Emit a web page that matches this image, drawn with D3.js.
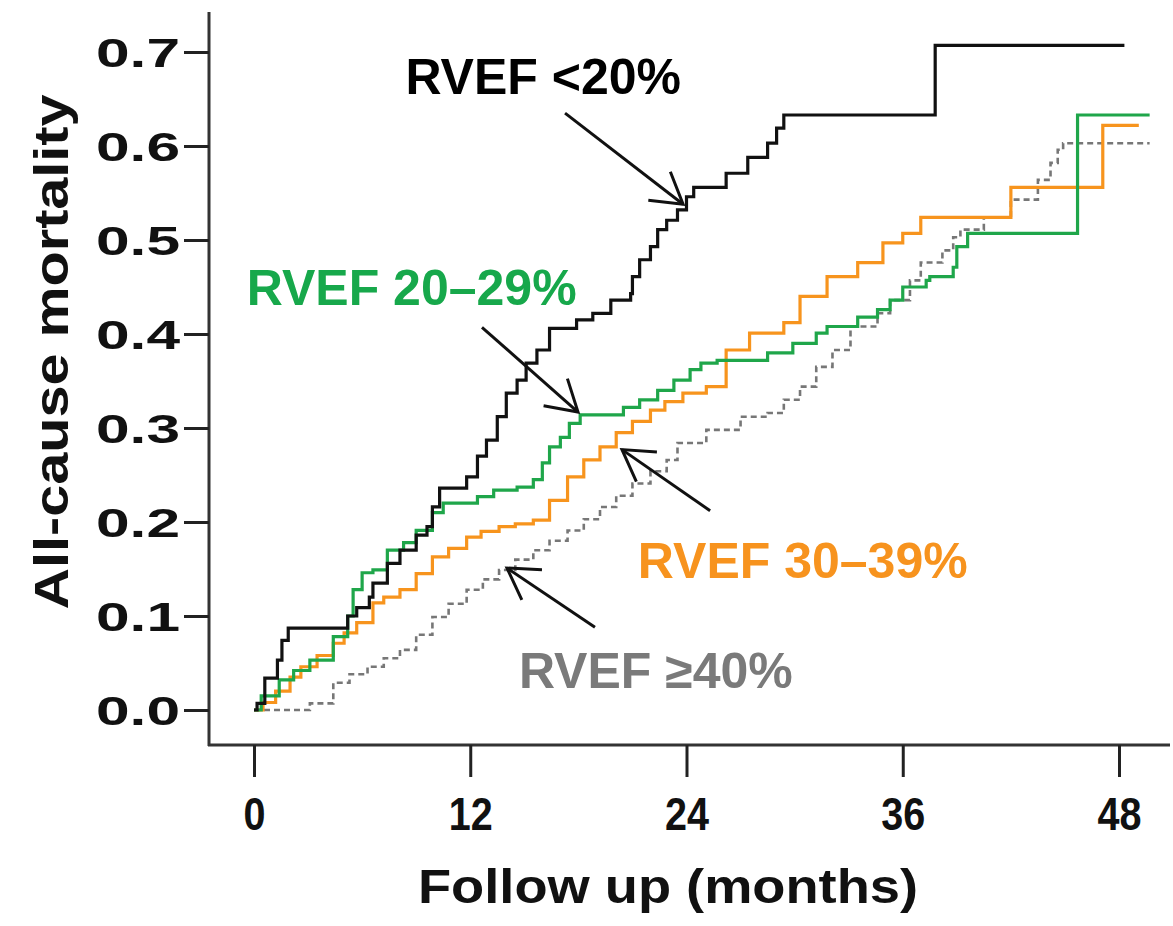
<!DOCTYPE html>
<html>
<head>
<meta charset="utf-8">
<script src="https://cdn.jsdelivr.net/npm/d3@7"></script>
<style>
  html, body { margin: 0; padding: 0; background: #fff; }
  svg { display: block; }
</style>
</head>
<body>
<svg id="chart" width="1173" height="926"></svg>
<script>
// ---------------- DATA ----------------
const xTicks = [0, 12, 24, 36, 48];
const yTicks = [0.0, 0.1, 0.2, 0.3, 0.4, 0.5, 0.6, 0.7];
const xTitle = "Follow up (months)";
const yTitle = "All-cause mortality";

const seriesNames = ["RVEF <20%", "RVEF 20–29%", "RVEF 30–39%", "RVEF ≥40%"];

const monthsLt20 = [0,0.17,0.6,1.3,1.55,1.9,5.2,5.7,6.4,6.6,7.4,8.1,9.0,9.6,9.9,10.3,11.8,12.4,12.9,13.5,14.0,14.6,15.1,15.7,16.4,17.9,18.8,19.8,20.9,21.0,21.4,22.0,22.4,22.9,23.5,24.0,24.4,26.2,27.4,28.5,29.0,29.4,37.8,48.3];
const mortLt20   = [0,0.007,0.034,0.053,0.074,0.087,0.100,0.109,0.120,0.135,0.156,0.170,0.186,0.195,0.216,0.236,0.248,0.270,0.287,0.312,0.337,0.351,0.369,0.383,0.406,0.415,0.422,0.436,0.443,0.461,0.479,0.493,0.511,0.521,0.532,0.546,0.556,0.571,0.588,0.603,0.619,0.633,0.707,0.707];

const months20to29 = [0,0.4,1.4,2.2,3.1,4.4,5.2,5.5,6.0,6.6,7.4,8.3,9.0,9.9,10.5,12.4,13.3,14.6,15.5,16.0,16.4,17.0,17.5,18.1,20.5,21.4,22.4,23.3,24.2,24.8,25.7,28.5,29.9,31.2,31.8,33.5,34.6,35.3,36.0,37.3,37.5,38.8,39.0,39.6,45.7,49.7];
const mort20to29   = [0,0.015,0.032,0.042,0.053,0.078,0.100,0.128,0.146,0.149,0.170,0.178,0.191,0.210,0.220,0.227,0.234,0.237,0.245,0.263,0.280,0.290,0.305,0.314,0.322,0.330,0.340,0.351,0.362,0.369,0.372,0.380,0.390,0.401,0.408,0.418,0.426,0.436,0.450,0.457,0.461,0.471,0.493,0.507,0.633,0.633];

const months30to39 = [0,0.5,1.2,2.0,2.6,3.5,4.4,5.0,5.7,6.6,7.2,8.1,9.0,9.9,10.8,11.8,12.6,13.6,14.5,15.5,16.4,17.4,18.3,19.2,20.1,21.0,22.0,22.8,23.8,25.1,26.2,27.5,29.4,30.3,31.8,33.5,34.9,36.0,37.0,42.0,47.1,49.1];
const mort30to39   = [0,0.008,0.02,0.035,0.046,0.058,0.071,0.082,0.093,0.114,0.12,0.128,0.145,0.163,0.172,0.184,0.19,0.195,0.198,0.202,0.223,0.248,0.266,0.280,0.295,0.307,0.319,0.328,0.337,0.344,0.383,0.401,0.412,0.440,0.461,0.476,0.497,0.507,0.524,0.556,0.622,0.622];

const monthsGe40 = [0,3.1,4.4,5.3,6.3,7.2,8.1,9.0,9.9,10.8,11.8,12.7,13.6,14.5,15.5,16.4,17.4,18.3,19.2,20.1,21.0,22.0,22.9,23.5,25.1,27.0,28.5,29.4,30.3,31.2,32.1,33.1,34.6,35.3,36.4,37.0,38.2,38.8,39.2,40.5,42.0,43.5,44.2,44.6,44.9,49.7];
const mortGe40   = [0,0.007,0.029,0.038,0.046,0.055,0.064,0.08,0.099,0.113,0.128,0.139,0.149,0.16,0.170,0.18,0.191,0.203,0.216,0.228,0.241,0.254,0.266,0.284,0.298,0.312,0.316,0.33,0.344,0.365,0.383,0.408,0.422,0.436,0.457,0.476,0.489,0.503,0.511,0.524,0.543,0.564,0.582,0.596,0.603,0.603];

// label anchors (months, mortality) and arrows [tail, tip] in data units
const labelMonths = [8.4, -0.4, 21.3, 14.7];
const labelMort   = [0.655, 0.431, 0.140, 0.023];
const arrowTailM = [17.26, 12.65, 25.31, 18.92];
const arrowTailV = [0.635, 0.407, 0.212, 0.088];
const arrowTipM  = [23.81, 17.98, 20.42, 14.04];
const arrowTipV  = [0.538, 0.317, 0.277, 0.151];

// ---------------- STYLE ----------------
const colors = ["#111111", "#1fa64a", "#f7941d", "#777777"];
const textColors = ["#000000", "#17a84b", "#f7931e", "#7a7a7a"];
const dashes = [null, null, null, "6,4"];

const svg = d3.select("#chart");
const x = d3.scaleLinear().domain([0, 48]).range([254, 1119]);
const y = d3.scaleLinear().domain([0, 0.7]).range([710, 52]);

const axisX0 = 209, axisY0 = 745;

// Axis lines
svg.append("line").attr("x1", axisX0).attr("x2", axisX0).attr("y1", 12).attr("y2", axisY0 + 1)
  .attr("stroke", "#333").attr("stroke-width", 3);
svg.append("line").attr("x1", axisX0 - 1).attr("x2", 1170).attr("y1", axisY0).attr("y2", axisY0)
  .attr("stroke", "#333").attr("stroke-width", 3);

// Y axis
const gy = svg.append("g").attr("transform", `translate(${axisX0},0)`)
  .call(d3.axisLeft(y).tickValues(yTicks).tickFormat(d3.format(".1f")).tickSize(25).tickPadding(4));
gy.select(".domain").remove();
gy.selectAll(".tick line").attr("stroke", "#222").attr("stroke-width", 3);
gy.selectAll(".tick text")
  .attr("font-family", "Liberation Sans, Arial, sans-serif")
  .attr("font-weight", "bold").attr("font-size", 40).attr("fill", "#111")
  .attr("textLength", 84).attr("lengthAdjust", "spacingAndGlyphs")
  .attr("x", -29).attr("dy", "0.36em");

// X axis
const gx = svg.append("g").attr("transform", `translate(0,${axisY0})`)
  .call(d3.axisBottom(x).tickValues(xTicks).tickFormat(d3.format("d")).tickSize(32).tickPadding(6));
gx.select(".domain").remove();
gx.selectAll(".tick line").attr("stroke", "#222").attr("stroke-width", 3);
gx.selectAll(".tick text")
  .attr("font-family", "Liberation Sans, Arial, sans-serif")
  .attr("font-weight", "bold").attr("font-size", 46).attr("fill", "#111")
  .attr("textLength", d => String(d).length * 22).attr("lengthAdjust", "spacingAndGlyphs")
  .attr("dy", 0).attr("y", 85);

// Axis titles
svg.append("text").attr("transform", "translate(68,352) rotate(-90)")
  .attr("text-anchor", "middle")
  .attr("font-family", "Liberation Sans, Arial, sans-serif").attr("font-weight", "bold")
  .attr("font-size", 48).attr("fill", "#111")
  .attr("textLength", 515).attr("lengthAdjust", "spacingAndGlyphs")
  .text(yTitle);
svg.append("text").attr("x", 668).attr("y", 903)
  .attr("text-anchor", "middle")
  .attr("font-family", "Liberation Sans, Arial, sans-serif").attr("font-weight", "bold")
  .attr("font-size", 48).attr("fill", "#111")
  .attr("textLength", 500).attr("lengthAdjust", "spacingAndGlyphs")
  .text(xTitle);

// Curves
const seriesMonths = [monthsLt20, months20to29, months30to39, monthsGe40];
const seriesMort = [mortLt20, mort20to29, mort30to39, mortGe40];
const line = d3.line().x(d => x(d[0])).y(d => y(d[1])).curve(d3.curveStepAfter);
const drawOrder = [3, 2, 1, 0];
drawOrder.forEach(i => {
  const pts = seriesMonths[i].map((m, k) => [m, seriesMort[i][k]]);
  svg.append("path").datum(pts)
    .attr("d", line)
    .attr("fill", "none")
    .attr("stroke", colors[i])
    .attr("stroke-width", i === 3 ? 2.6 : 3.2)
    .attr("stroke-dasharray", dashes[i])
    .attr("stroke-linejoin", "miter");
});

// Labels
seriesNames.forEach((name, i) => {
  svg.append("text").attr("x", x(labelMonths[i])).attr("y", y(labelMort[i]))
    .attr("font-family", "Liberation Sans, Arial, sans-serif").attr("font-weight", "bold")
    .attr("font-size", 50).attr("fill", textColors[i]).text(name);
});

// Arrows
const headLen = 35, headAng = 31 * Math.PI / 180;
seriesNames.forEach((_, i) => {
  const tx = x(arrowTailM[i]), ty = y(arrowTailV[i]);
  const px = x(arrowTipM[i]), py = y(arrowTipV[i]);
  const a = Math.atan2(ty - py, tx - px);
  const h1 = [px + headLen * Math.cos(a + headAng), py + headLen * Math.sin(a + headAng)];
  const h2 = [px + headLen * Math.cos(a - headAng), py + headLen * Math.sin(a - headAng)];
  const g = svg.append("g").attr("stroke", "#111").attr("stroke-width", 3).attr("fill", "none");
  g.append("path").attr("d", `M${tx},${ty}L${px},${py}`);
  g.append("path").attr("d", `M${h1[0]},${h1[1]}L${px},${py}L${h2[0]},${h2[1]}`);
});
</script>
</body>
</html>
